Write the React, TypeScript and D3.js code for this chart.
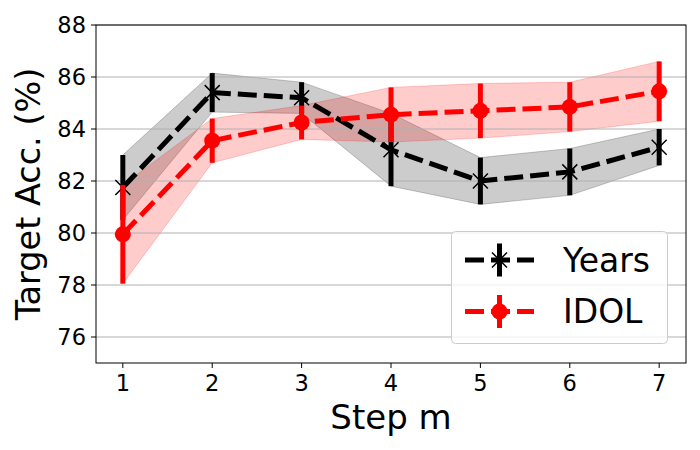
import * as d3 from 'd3';

const steps = [1, 2, 3, 4, 5, 6, 7];
const yearsMean = [81.75, 85.4, 85.2, 83.2, 82.0, 82.35, 83.3];
const yearsStd = [1.25, 0.75, 0.6, 1.4, 0.9, 0.9, 0.7];
const idolMean = [79.95, 83.55, 84.25, 84.55, 84.7, 84.85, 85.45];
const idolStd = [1.9, 0.85, 0.65, 1.05, 1.05, 0.95, 1.15];
const yTicks = [76, 78, 80, 82, 84, 86, 88];

const width = 700;
const height = 450;
const margin = { top: 25, right: 14, bottom: 87, left: 96 };
const font = 'DejaVu Sans, sans-serif';

export default function App() {
  const x = d3.scaleLinear().domain([0.7, 7.3]).range([margin.left, width - margin.right]);
  const y = d3.scaleLinear().domain([75, 88]).range([height - margin.bottom, margin.top]);

  const band = (mean: number[], std: number[]) =>
    d3.area<number>()
      .x((_, i) => x(steps[i]))
      .y0((_, i) => y(mean[i] - std[i]))
      .y1((_, i) => y(mean[i] + std[i]))(mean)!;

  const line = (mean: number[]) =>
    d3.line<number>()
      .x((_, i) => x(steps[i]))
      .y((d) => y(d))(mean)!;

  const series = [
    { name: 'Years', mean: yearsMean, std: yearsStd, color: 'black', fill: 'rgba(0,0,0,0.2)', marker: 'x' },
    { name: 'IDOL', mean: idolMean, std: idolStd, color: 'red', fill: 'rgba(255,0,0,0.2)', marker: 'o' },
  ];

  const dash = '19 7';
  const lw = 5;

  // 'o' = filled circle, 'x' = thin cross
  const drawMarker = (kind: string, cx: number, cy: number, color: string, key: string | number) =>
    kind === 'o' ? (
      <circle key={key} cx={cx} cy={cy} r={8} fill={color} />
    ) : (
      <path key={key} d={`M${cx - 7.5},${cy - 7.5}L${cx + 7.5},${cy + 7.5}M${cx - 7.5},${cy + 7.5}L${cx + 7.5},${cy - 7.5}`}
        stroke={color} strokeWidth={1.5} fill="none" />
    );

  const [x0, x1] = x.range();
  const [yb, yt] = y.range();

  return (
    <svg width={width} height={height} style={{ position: 'absolute', left: 0, top: 0 }} fontFamily={font}>
      <rect width={width} height={height} fill="white" />
      {series.map((s) => (
        <path key={s.name + 'band'} d={band(s.mean, s.std)} fill={s.fill} stroke={s.fill} strokeWidth={1} />
      ))}
      {yTicks.map((t) => (
        <line key={t} x1={x0} x2={x1} y1={y(t)} y2={y(t)} stroke="#b0b0b0" strokeWidth={1} />
      ))}
      {series.map((s) => (
        <g key={s.name}>
          {s.mean.map((m, i) => (
            <line key={i} x1={x(steps[i])} x2={x(steps[i])} y1={y(m - s.std[i])} y2={y(m + s.std[i])}
              stroke={s.color} strokeWidth={lw} />
          ))}
          <path d={line(s.mean)} fill="none" stroke={s.color} strokeWidth={lw} strokeDasharray={dash} />
          {s.mean.map((m, i) => drawMarker(s.marker, x(steps[i]), y(m), s.color, i))}
        </g>
      ))}
      <rect x={x0} y={yt} width={x1 - x0} height={yb - yt} fill="none" stroke="black" strokeWidth={1} />
      {yTicks.map((t) => (
        <g key={t}>
          <line x1={x0 - 5} x2={x0} y1={y(t)} y2={y(t)} stroke="black" />
          <text x={x0 - 10} y={y(t)} dy="0.36em" textAnchor="end" fontSize={22.5}>{t}</text>
        </g>
      ))}
      {steps.map((t) => (
        <g key={t}>
          <line x1={x(t)} x2={x(t)} y1={yb} y2={yb + 5} stroke="black" />
          <text x={x(t)} y={yb + 28} textAnchor="middle" fontSize={22.5}>{t}</text>
        </g>
      ))}
      <text x={(x0 + x1) / 2} y={429} textAnchor="middle" fontSize={34}>Step m</text>
      <text transform={`translate(40,${(yt + yb) / 2}) rotate(-90)`} textAnchor="middle" fontSize={33.5}>Target Acc. (%)</text>
      <g>
        <rect x={451.5} y={231.5} width={216} height={112} rx={4} fill="rgba(255,255,255,0.8)" stroke="#cccccc" strokeWidth={1} />
        {series.map((s, i) => {
          const ry = 260 + i * 51.5;
          return (
            <g key={s.name}>
              <line x1={465} x2={534} y1={ry} y2={ry} stroke={s.color} strokeWidth={lw} strokeDasharray={dash} />
              <line x1={499.5} x2={499.5} y1={ry - 16.5} y2={ry + 16.5} stroke={s.color} strokeWidth={lw} />
              {drawMarker(s.marker, 499.5, ry, s.color, 'm')}
              <text x={563} y={ry} dy="0.36em" fontSize={33}>{s.name}</text>
            </g>
          );
        })}
      </g>
    </svg>
  );
}
